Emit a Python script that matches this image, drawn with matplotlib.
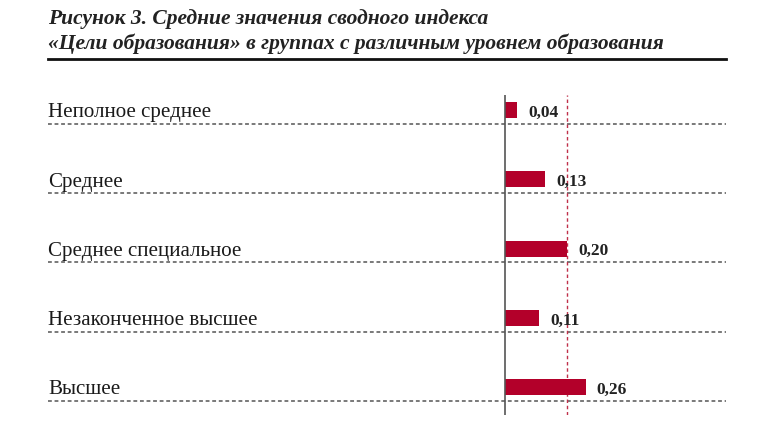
import matplotlib
matplotlib.use("Agg")
import matplotlib.pyplot as plt

categories = ["Неполное среднее", "Среднее", "Среднее специальное",
              "Незаконченное высшее", "Высшее"]
values = [0.04, 0.13, 0.20, 0.11, 0.26]
value_labels = ["0,04", "0,13", "0,20", "0,11", "0,26"]
ref_line = 0.20
title_lines = ["Рисунок 3. Средние значения сводного индекса",
               "«Цели образования» в группах с различным уровнем образования"]

W, H = 771, 430
fig = plt.figure(figsize=(W / 100, H / 100), dpi=100)
plt.rcParams['font.family'] = ['Liberation Serif', 'DejaVu Serif']

px_per_unit = 310.0
x0_px, x1_px, zero_px = 48, 726, 505
top_px, bot_px = 95, 415
ax = fig.add_axes([x0_px / W, 1 - bot_px / H, (x1_px - x0_px) / W, (bot_px - top_px) / H])
ax.set_xlim((x0_px - zero_px) / px_per_unit, (x1_px - zero_px) / px_per_unit)
spacing = 69.3
first_c = 110
ax.set_ylim((bot_px - first_c) / spacing, (top_px - first_c) / spacing)
for s in ax.spines.values():
    s.set_visible(False)
ax.set_xticks([])
ax.set_yticks([])
ax.patch.set_alpha(0)

bar_color = "#B3002A"
ypos = list(range(len(categories)))
ax.barh(ypos, values, height=0.23, color=bar_color, zorder=3)

ax.axvline(0, color="#555555", lw=1.2, zorder=4)
ax.axvline(ref_line, color="#C0304A", lw=1.0, ls=(0, (2.5, 2)), zorder=2)

xmin, xmax = ax.get_xlim()
for i, (cat, v, lab) in enumerate(zip(categories, values, value_labels)):
    ax.plot([xmin, xmax], [i + 0.2, i + 0.2], color="#555555", lw=1.1,
            ls=(0, (2.5, 1.8)), zorder=1, solid_capstyle='butt')
    ax.text(xmin, i + 0.04, cat, ha="left", va="center", fontsize=15.1, color="#1a1a1a")
    ax.text(v + 11 / px_per_unit, i + 0.04, lab, ha="left", va="center",
            fontsize=12.5, fontweight="bold", color="#222222", zorder=5)

fig.text(x0_px / W, 1 - 19 / H, title_lines[0], ha="left", va="center",
         fontsize=15.5, fontweight="bold", fontstyle="italic", color="#222222")
fig.text(x0_px / W, 1 - 44 / H, title_lines[1], ha="left", va="center",
         fontsize=15.5, fontweight="bold", fontstyle="italic", color="#222222")
fig.add_artist(plt.Line2D([x0_px / W, x1_px / W], [1 - 59 / H, 1 - 59 / H],
                          color="#111111", lw=2.0))

fig.savefig("out.png", dpi=100)
